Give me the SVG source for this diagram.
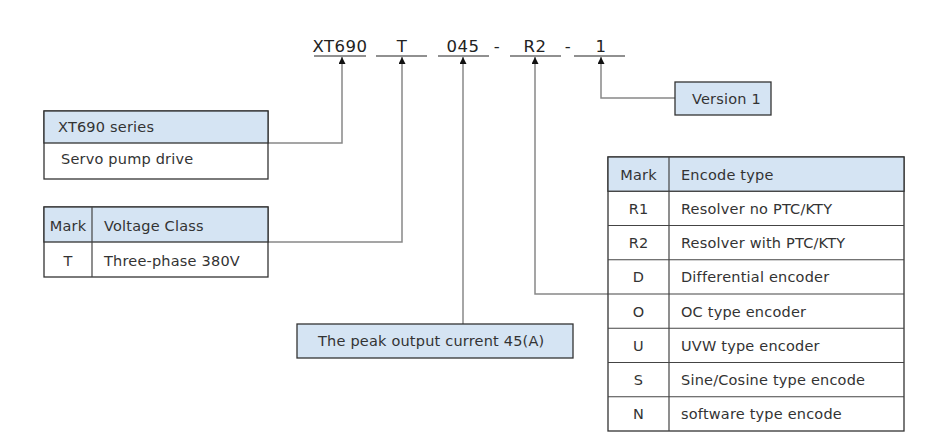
<svg xmlns="http://www.w3.org/2000/svg" width="925" height="445" viewBox="0 0 925 445">
<style>
text{font-family:"DejaVu Sans","Liberation Sans",sans-serif;font-size:14.5px;letter-spacing:0.2px;fill:#333}
.code{font-size:16.5px;letter-spacing:0.5px;fill:#222}
.c{text-anchor:middle}
.box{stroke:#333;stroke-width:1.3;fill:#fff}
.hd{fill:#d5e4f3}
.ln{stroke:#444;stroke-width:1.2;fill:none}
.ul{stroke:#222;stroke-width:1.2}
.con{stroke:#888;stroke-width:1.5;fill:none}
</style>
<defs>
<marker id="ah" viewBox="0 0 10 10" refX="10" refY="5" markerWidth="7" markerHeight="7" markerUnits="userSpaceOnUse" orient="auto">
<path d="M0,0 L10,5 L0,10 z" fill="#111"/>
</marker>
</defs>
<g id="code">
<text class="code c" x="340" y="52">XT690</text>
<text class="code c" x="402" y="52">T</text>
<text class="code c" x="463" y="52">045</text>
<text class="code c" x="497" y="52">-</text>
<text class="code c" x="535" y="52">R2</text>
<text class="code c" x="568" y="52">-</text>
<text class="code c" x="601" y="52">1</text>
<line class="ul" x1="314" y1="56" x2="366" y2="56"/>
<line class="ul" x1="376" y1="56" x2="427" y2="56"/>
<line class="ul" x1="438" y1="56" x2="489" y2="56"/>
<line class="ul" x1="510" y1="56" x2="561" y2="56"/>
<line class="ul" x1="574" y1="56" x2="625" y2="56"/>
</g>
<g id="connectors">
<path class="con" d="M268,143 H342 V57" marker-end="url(#ah)"/>
<path class="con" d="M268,242 H402 V57" marker-end="url(#ah)"/>
<path class="con" d="M463,324 V57" marker-end="url(#ah)"/>
<path class="con" d="M608,294 H535 V57" marker-end="url(#ah)"/>
<path class="con" d="M675,98 H601 V57" marker-end="url(#ah)"/>
</g>
<g id="series">
<rect class="box" x="44" y="111" width="224" height="68"/>
<rect class="box hd" x="44" y="111" width="224" height="32"/>
<text x="58" y="132">XT690 series</text>
<text x="61" y="164">Servo pump drive</text>
</g>
<g id="voltage">
<rect class="box" x="44" y="207" width="224" height="70"/>
<rect class="box hd" x="44" y="207" width="224" height="35"/>
<line class="ln" x1="92" y1="207" x2="92" y2="277"/>
<text class="c" x="68" y="231">Mark</text>
<text x="104" y="231">Voltage Class</text>
<text class="c" x="68" y="266">T</text>
<text x="104" y="266">Three-phase 380V</text>
</g>
<g id="current">
<rect class="box hd" x="297" y="324" width="276" height="34"/>
<text x="318" y="346">The peak output current 45(A)</text>
</g>
<g id="version">
<rect class="box hd" x="675" y="82" width="96" height="33"/>
<text x="692" y="104">Version 1</text>
</g>
<g id="encode">
<rect class="box" x="608" y="157" width="296" height="274"/>
<rect class="box hd" x="608" y="157" width="296" height="34.25"/>
<line class="ln" x1="669" y1="157" x2="669" y2="431"/>
<line class="ln" x1="608" y1="225.5" x2="904" y2="225.5"/>
<line class="ln" x1="608" y1="259.75" x2="904" y2="259.75"/>
<line class="ln" x1="608" y1="294" x2="904" y2="294"/>
<line class="ln" x1="608" y1="328.25" x2="904" y2="328.25"/>
<line class="ln" x1="608" y1="362.5" x2="904" y2="362.5"/>
<line class="ln" x1="608" y1="396.75" x2="904" y2="396.75"/>
<text class="c" x="638.5" y="180">Mark</text>
<text x="681" y="180">Encode type</text>
<text class="c" x="638.5" y="214">R1</text>
<text x="681" y="214">Resolver no PTC/KTY</text>
<text class="c" x="638.5" y="248">R2</text>
<text x="681" y="248">Resolver with PTC/KTY</text>
<text class="c" x="638.5" y="282">D</text>
<text x="681" y="282">Differential encoder</text>
<text class="c" x="638.5" y="317">O</text>
<text x="681" y="317">OC type encoder</text>
<text class="c" x="638.5" y="351">U</text>
<text x="681" y="351">UVW type encoder</text>
<text class="c" x="638.5" y="385">S</text>
<text x="681" y="385">Sine/Cosine type encode</text>
<text class="c" x="638.5" y="419">N</text>
<text x="681" y="419">software type encode</text>
</g>
</svg>
